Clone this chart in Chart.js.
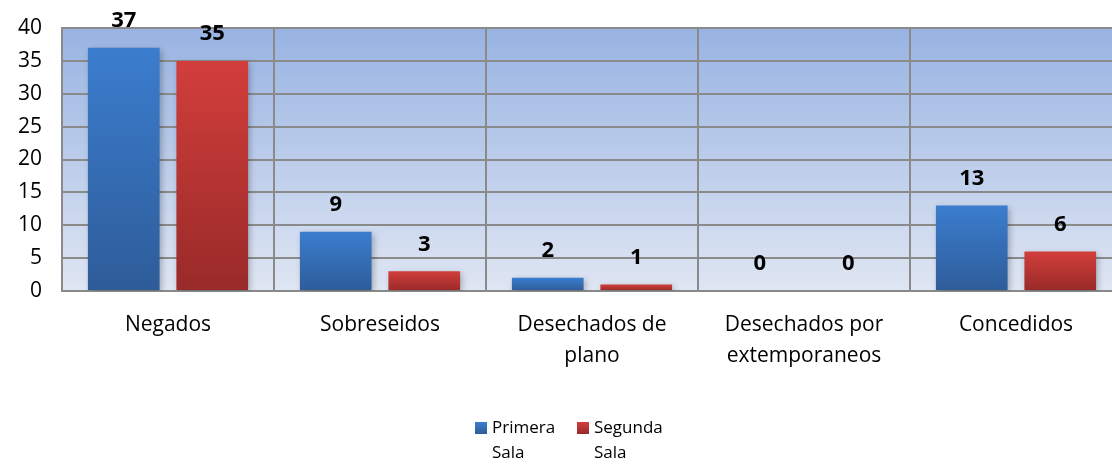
<!DOCTYPE html>
<html>
<head>
<meta charset="utf-8">
<script src="https://cdn.jsdelivr.net/npm/chart.js@4.4.1/dist/chart.umd.min.js"></script>
<style>
  html, body { margin: 0; padding: 0; background: #fff; overflow: hidden; }
  #wrap { width: 1112px; height: 464px; overflow: hidden; position: relative; }
  #box { width: 1130px; height: 464px; position: absolute; left: 0; top: 0; }
</style>
</head>
<body>
<div id="wrap"><div id="box"><canvas id="grafico"></canvas></div></div>
<script>
// categorias y valores
const categorias = ['Negados', 'Sobreseidos', ['Desechados de', 'plano'], ['Desechados por', 'extemporaneos'], 'Concedidos'];
const primeraSala = [37, 9, 2, 0, 13];
const segundaSala = [35, 3, 1, 0, 6];
const nombresSeries = [['Primera', 'Sala'], ['Segunda', 'Sala']];
const yMax = 40;
const yPaso = 5;

const FUENTE = "'Open Sans', 'DejaVu Sans', sans-serif";

// degradado vertical por barra
function degradado(arriba, abajo) {
  return function (context) {
    const chart = context.chart;
    const area = chart.chartArea;
    if (!area || context.parsed === undefined) return arriba;
    const y = chart.scales.y;
    const top = y.getPixelForValue(context.parsed.y);
    const bottom = y.getPixelForValue(0);
    if (bottom - top < 1) return arriba;
    const g = chart.ctx.createLinearGradient(0, top, 0, bottom);
    g.addColorStop(0, arriba);
    g.addColorStop(1, abajo);
    return g;
  };
}

const fondoPlot = {
  id: 'fondoPlot',
  beforeDraw(chart) {
    const { ctx, chartArea: a } = chart;
    const g = ctx.createLinearGradient(0, a.top, 0, a.bottom);
    g.addColorStop(0, '#98b3e2');
    g.addColorStop(1, '#dfe6f3');
    ctx.save();
    ctx.fillStyle = g;
    ctx.fillRect(a.left, a.top, a.right - a.left, a.bottom - a.top);
    ctx.restore();
  },
  beforeDatasetsDraw(chart) {
    const ctx = chart.ctx;
    ctx.save();
    ctx.shadowColor = 'rgba(0,0,0,0.25)';
    ctx.shadowBlur = 6;
    ctx.shadowOffsetX = 2;
    ctx.shadowOffsetY = 2;
  },
  afterDatasetsDraw(chart) {
    const ctx = chart.ctx;
    ctx.restore();
    // etiquetas de valor
    ctx.save();
    ctx.font = 'bold 22px ' + FUENTE;
    ctx.fillStyle = '#000';
    ctx.textAlign = 'center';
    ctx.textBaseline = 'middle';
    chart.data.datasets.forEach((ds, i) => {
      chart.getDatasetMeta(i).data.forEach((bar, j) => {
        ctx.fillText(String(ds.data[j]), bar.x, bar.y - 27);
      });
    });
    ctx.restore();
  },
  afterDraw(chart) {
    // leyenda en dos lineas
    const ctx = chart.ctx;
    const centro = chart.width / 2 + 5;
    const paso = 102;
    const inicio = centro - 95;
    const yTop = chart.chartArea.bottom + 131;
    ctx.save();
    ctx.font = '17px ' + FUENTE;
    ctx.textBaseline = 'middle';
    ctx.textAlign = 'left';
    chart.data.datasets.forEach((ds, i) => {
      const x = inicio + i * paso;
      const g = ctx.createLinearGradient(0, yTop, 0, yTop + 12);
      g.addColorStop(0, ds.colores[0]);
      g.addColorStop(1, ds.colores[1]);
      ctx.fillStyle = g;
      ctx.fillRect(x, yTop, 12, 12);
      ctx.fillStyle = '#000';
      ds.label.forEach((linea, k) => {
        ctx.fillText(linea, x + 17, yTop + 6 + k * 25);
      });
    });
    ctx.restore();
  }
};

const data = {
  labels: categorias,
  datasets: [
    {
      label: nombresSeries[0],
      data: primeraSala,
      colores: ['#3b7dce', '#2e5c99'],
      backgroundColor: degradado('#3b7dce', '#2e5c99'),
      categoryPercentage: 0.835,
      barPercentage: 0.81
    },
    {
      label: nombresSeries[1],
      data: segundaSala,
      colores: ['#d23e3b', '#982a29'],
      backgroundColor: degradado('#d23e3b', '#982a29'),
      categoryPercentage: 0.835,
      barPercentage: 0.81
    }
  ]
};

const config = {
  type: 'bar',
  data: data,
  plugins: [fondoPlot],
  options: {
    responsive: true,
    maintainAspectRatio: false,
    animation: false,
    layout: { padding: { top: 28, right: 8, bottom: 73, left: 0 } },
    plugins: {
      legend: { display: false },
      tooltip: { enabled: false }
    },
    scales: {
      x: {
        grid: { color: '#8a8a8a', lineWidth: 2, drawTicks: false, offset: true },
        border: { color: '#8a8a8a', width: 2 },
        ticks: {
          color: '#000',
          padding: 18,
          maxRotation: 0,
          autoSkip: false,
          font: { family: FUENTE, size: 21, lineHeight: 1.5 }
        },
        afterFit(scale) { scale.height = 100; }
      },
      y: {
        min: 0,
        max: yMax,
        grid: { color: '#8a8a8a', lineWidth: 2, drawTicks: false },
        border: { color: '#8a8a8a', width: 2 },
        ticks: {
          stepSize: yPaso,
          color: '#000',
          padding: 20,
          font: { family: FUENTE, size: 21 }
        },
        afterFit(scale) {
          scale.width = 62;
          scale.paddingTop = 0;
          scale.paddingBottom = 0;
        }
      }
    }
  }
};

const grafico = new Chart(document.getElementById('grafico'), config);
</script>
</body>
</html>
